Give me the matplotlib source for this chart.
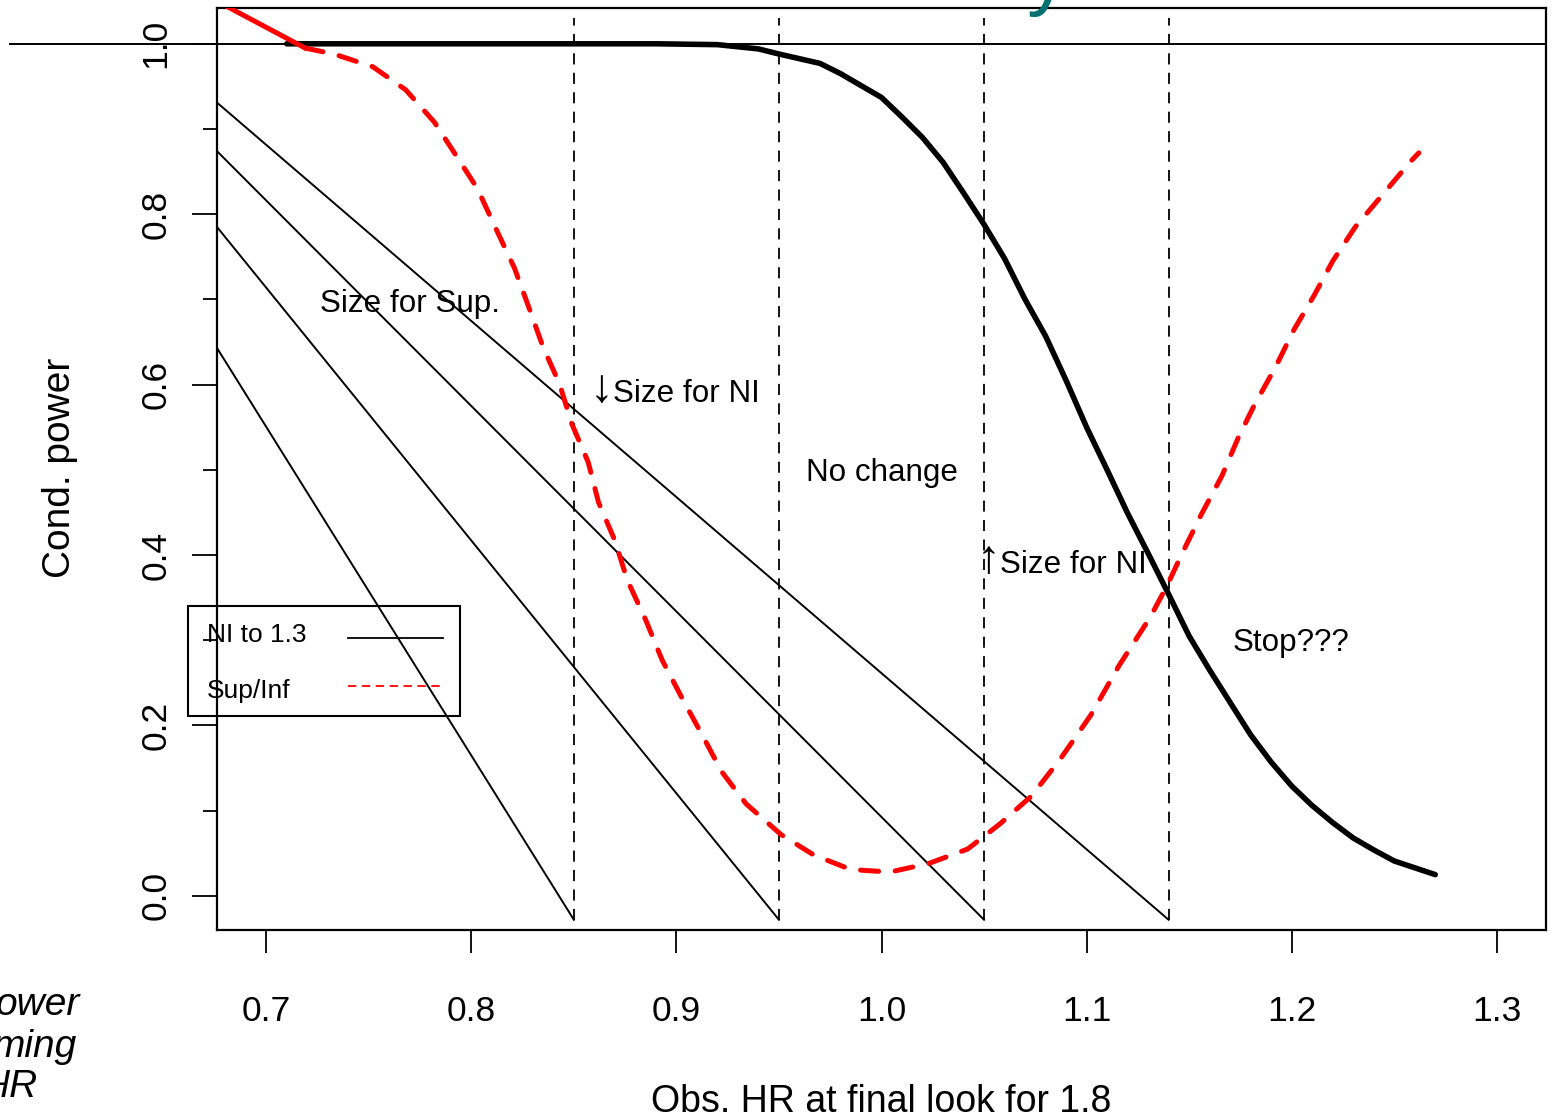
import matplotlib.pyplot as plt
from matplotlib.lines import Line2D
from matplotlib.patches import Rectangle

plt.rcParams['font.family'] = ['Liberation Sans', 'DejaVu Sans']
plt.rcParams['lines.scale_dashes'] = False

FIG_W, FIG_H = 1552, 1118

# axis ranges and ticks
x_limits = [0.676, 1.324]
y_limits = [-0.04, 1.042]
x_ticks = [0.7, 0.8, 0.9, 1.0, 1.1, 1.2, 1.3]
x_tick_labels = ['0.7', '0.8', '0.9', '1.0', '1.1', '1.2', '1.3']
y_ticks = [0.0, 0.2, 0.4, 0.6, 0.8, 1.0]
y_tick_labels = ['0.0', '0.2', '0.4', '0.6', '0.8', '1.0']
y_minor_ticks = [0.1, 0.3, 0.5, 0.7, 0.9]

# decision boundaries (vertical dashed lines)
boundaries = [0.85, 0.95, 1.05, 1.14]
boundary_bottom = -0.028
boundary_top = 1.03

# straight NI lines, from the left edge down to the foot of each boundary
ni_line_start_x = 0.676
ni_line_start_y = [0.643, 0.785, 0.874, 0.931]

# conditional power, NI to 1.3
ni_hr = [0.71, 0.89, 0.92, 0.94, 0.95, 0.97, 0.98, 1.00, 1.01, 1.02,
         1.03, 1.04, 1.05, 1.06, 1.07, 1.08, 1.09, 1.10, 1.11, 1.12,
         1.13, 1.14, 1.15, 1.16, 1.17, 1.18, 1.19, 1.20, 1.21, 1.22,
         1.23, 1.24, 1.25, 1.26, 1.27]
ni_power = [1.000, 1.000, 0.999, 0.994, 0.988, 0.977, 0.965, 0.937, 0.914, 0.890,
            0.861, 0.825, 0.788, 0.748, 0.700, 0.657, 0.605, 0.550, 0.500, 0.449,
            0.402, 0.354, 0.305, 0.265, 0.227, 0.189, 0.157, 0.129, 0.106, 0.086,
            0.068, 0.054, 0.041, 0.033, 0.025]

# conditional power, Sup/Inf
sup_hr = [0.676, 0.719, 0.733, 0.752, 0.768, 0.782, 0.792, 0.803, 0.812, 0.821,
          0.828, 0.835, 0.843, 0.849, 0.857, 0.862, 0.870, 0.876, 0.885, 0.893,
          0.903, 0.913, 0.922, 0.934, 0.951, 0.967, 0.985, 1.004, 1.023, 1.042,
          1.058, 1.073, 1.087, 1.102, 1.116, 1.131, 1.139, 1.147, 1.156, 1.166,
          1.174, 1.182, 1.192, 1.201, 1.211, 1.220, 1.231, 1.244, 1.258, 1.262]
sup_power = [1.050, 0.995, 0.988, 0.973, 0.946, 0.908, 0.871, 0.830, 0.783, 0.737,
             0.691, 0.644, 0.601, 0.554, 0.509, 0.462, 0.417, 0.371, 0.324, 0.277,
             0.231, 0.187, 0.146, 0.108, 0.072, 0.048, 0.031, 0.028, 0.038, 0.055,
             0.085, 0.117, 0.160, 0.212, 0.271, 0.327, 0.363, 0.404, 0.448, 0.493,
             0.538, 0.577, 0.620, 0.664, 0.705, 0.745, 0.785, 0.822, 0.862, 0.872]

# region annotations (text baseline positions), arrows drawn just before the text
region_labels = ['Size for Sup.', 'Size for NI', 'No change', 'Size for NI', 'Stop???']
region_x = [0.726, 0.869, 0.963, 1.058, 1.171]
region_y = [0.685, 0.580, 0.487, 0.379, 0.288]
region_arrows = ['', '\u2193', '', '\u2191', '']
arrow_x = [0.0, 0.8575, 0.0, 1.0465, 0.0]

legend_labels = ['NI to 1.3', 'Sup/Inf']


def px(x, y):
    """Pixel position (from top-left) to figure fraction."""
    return x / FIG_W, 1 - y / FIG_H


def draw_key(fig):
    """Key box as in the original: label first, line sample on the right."""
    x0, y0 = px(188, 716)
    x1, y1 = px(460, 606)
    fig.add_artist(Rectangle((x0, y0), x1 - x0, y1 - y0, transform=fig.transFigure,
                             facecolor='none', edgecolor='black', lw=1.5))
    fig.text(*px(207, 642), legend_labels[0], fontsize=19, ha='left', va='baseline')
    fig.text(*px(207, 698), legend_labels[1], fontsize=19, ha='left', va='baseline')
    (ax0, ay), (ax1, _) = px(348, 638), px(443, 638)
    fig.add_artist(Line2D([ax0, ax1], [ay, ay], transform=fig.transFigure,
                          color='black', lw=1.3))
    (rx0, ry), (rx1, _) = px(348, 686), px(440, 686)
    fig.add_artist(Line2D([rx0, rx1], [ry, ry], transform=fig.transFigure,
                          color='red', lw=1.3, linestyle=(0, (6, 4))))


def plot_power(output_file="out.png"):
    fig = plt.figure(figsize=(FIG_W / 100, FIG_H / 100), dpi=100)
    ax = fig.add_axes([217 / FIG_W, 1 - 930 / FIG_H, 1329 / FIG_W, 922 / FIG_H])

    # reference line at full power, running past the left axis
    ax.axhline(1.0, xmin=-0.156, xmax=1.0, color='black', lw=1.4, clip_on=False, zorder=2)

    ax.vlines(boundaries, boundary_bottom, boundary_top, colors='black', lw=1.3,
              linestyles=[(0, (8, 6))])

    for y0, x1 in zip(ni_line_start_y, boundaries):
        ax.plot([ni_line_start_x, x1], [y0, boundary_bottom], color='black', lw=1.4)

    ax.plot(ni_hr, ni_power, color='black', lw=4, solid_capstyle='round', zorder=4)

    # first piece of the red curve is drawn solid, the rest dashed
    ax.plot(sup_hr[:2], sup_power[:2], color='red', lw=3.6, zorder=5)
    ax.plot(sup_hr[1:], sup_power[1:], color='red', lw=3.6, linestyle=(0, (13, 12)),
            dash_capstyle='round', zorder=5)

    for label, x, y, arrow, xa in zip(region_labels, region_x, region_y,
                                      region_arrows, arrow_x):
        ax.text(x, y, label, fontsize=22.6, ha='left', va='baseline')
        if arrow:
            ax.text(xa, y, arrow, fontsize=34, ha='left', va='baseline')

    ax.set_xlim(x_limits)
    ax.set_ylim(y_limits)
    ax.set_xticks(x_ticks)
    ax.set_xticklabels(x_tick_labels)
    ax.set_yticks(y_ticks)
    ax.set_yticklabels(y_tick_labels, rotation=90, va='center')
    ax.set_yticks(y_minor_ticks, minor=True)
    ax.tick_params(axis='x', length=16.5, width=1.3, labelsize=25.5, pad=30)
    ax.tick_params(axis='y', which='major', length=18, width=1.3, labelsize=25.5, pad=14)
    ax.tick_params(axis='y', which='minor', length=10, width=1.3)
    for spine in ax.spines.values():
        spine.set_linewidth(1.6)

    ax.set_xlabel('Obs. HR at final look for 1.8', fontsize=27)
    ax.xaxis.set_label_coords(0.5, -0.1974)
    ax.xaxis.label.set_verticalalignment('baseline')
    ax.set_ylabel('Cond. power', fontsize=28)
    ax.yaxis.set_label_coords(-0.1106, 0.501)
    ax.yaxis.label.set_verticalalignment('baseline')

    draw_key(fig)

    # fragments of the surrounding slide
    fig.text(1027 / FIG_W, 1.0, 'y', color='#007070', fontsize=60, ha='left', va='baseline')
    fig.text(*px(80, 1015), 'ower', fontsize=28, style='italic', ha='right', va='baseline')
    fig.text(*px(77, 1057), 'ming', fontsize=28, style='italic', ha='right', va='baseline')
    fig.text(*px(38, 1097), 'HR', fontsize=28, style='italic', ha='right', va='baseline')

    fig.savefig(output_file, dpi=100)


if __name__ == "__main__":
    plot_power()
